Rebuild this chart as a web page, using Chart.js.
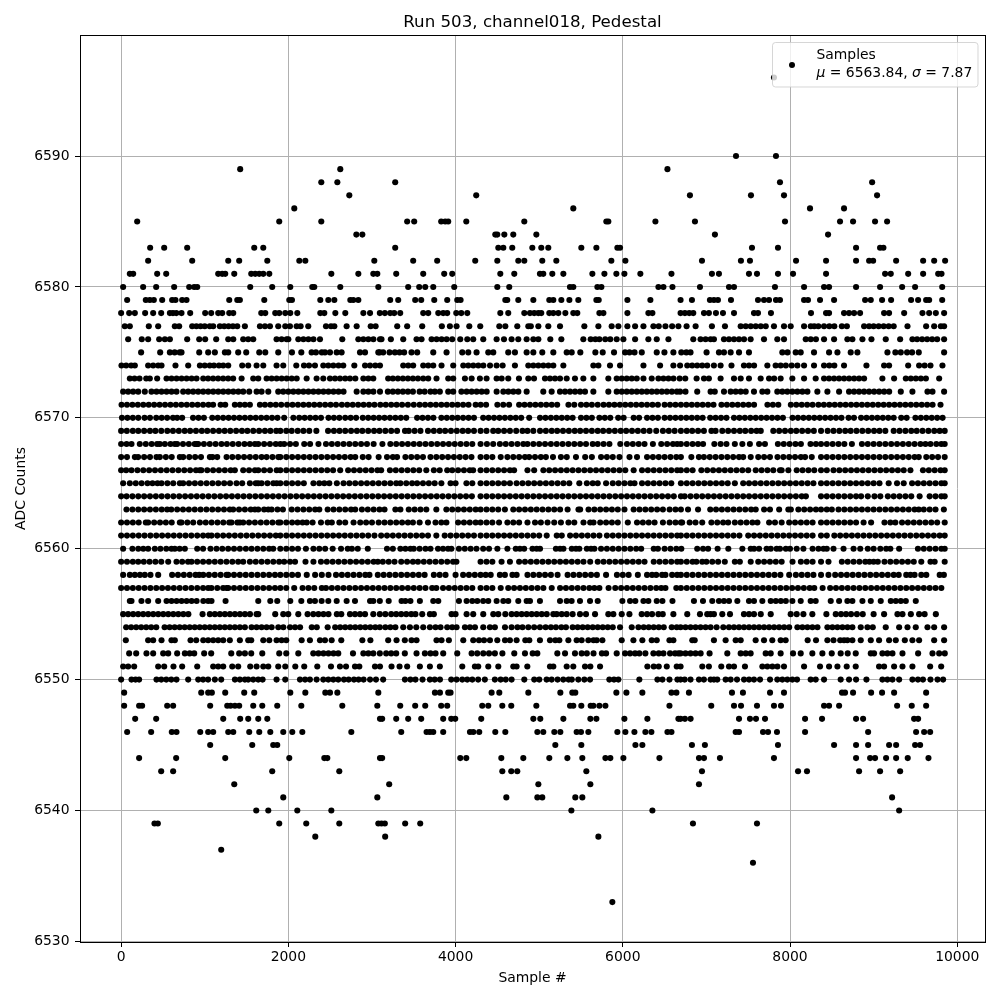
<!DOCTYPE html>
<html><head><meta charset="utf-8">
<style>html,body{margin:0;padding:0;background:#fff}canvas{display:block}</style>
<script src="https://cdn.jsdelivr.net/npm/chart.js@4"></script></head><body>
<canvas id="c" width="1000" height="1000"></canvas>
<script>
const titleText="Run 503, channel018, Pedestal", xLabel="Sample #", yLabel="ADC Counts";
const xTicks=[0,2000,4000,6000,8000,10000];
const yTicks=[6530,6540,6550,6560,6570,6580,6590];
const s6596=[7808];
const s6590=[7354,7832];
const s6589=[1424,2621,6534];
const s6588=[2394,2586,3278,8982,7880];
const s6587=[2729,4247,6803,7533,7928,9041];
const s6586=[2071,5408,8239,8646];
const s6585=[192,1891,2394,3421,3505,3828,3876,3912,4128,4822,5803,5827,6390,6863,7940,8598,8754,9017,9161];
const s6584=[2813,2885,4475,4499,4583,4690,4966,7102,8455];
const s6583=[347,515,790,1592,1700,3278,4511,4571,4678,4918,5025,5109,5504,5684,5935,5967,7545,7856,8790,9077,9117];
const s6582=[323,850,1281,1412,1748,2131,2203,3028,3493,3780,4235,4499,4750,4822,5037,5205,5863,6031,6947,7413,7521,8072,8431,8790,8946,8994,9269,9592,9724,9855];
const s6581=[104,144,431,539,1161,1209,1245,1353,1556,1604,1652,1700,1772,2514,2837,3016,3064,3290,3613,3864,3960,4535,4702,5009,5049,5157,5289,5636,5780,5923,6019,6210,6582,7066,7150,7509,7605,7856,8036,8431,9137,9205,9413,9592,9772,9812];
const s6580=[24,263,419,634,814,874,910,1544,1807,2023,2286,2310,2621,3076,3433,3565,3637,3733,3984,4499,4642,5368,5408,5696,5744,6426,6486,6594,6923,7270,7330,7820,8168,8407,8467,8790,9077,9341,9496,9820];
const s6579=[72,295,343,391,491,610,650,730,782,1293,1389,1420,1712,2011,2043,2382,2478,2550,2741,2777,2837,3218,3314,3517,3589,3745,3900,4020,4060,4595,4618,4750,4930,5121,5169,5265,5361,5468,5684,5712,6055,6330,6691,6827,7042,7090,7138,7294,7617,7689,7749,7832,7880,8168,8215,8359,8527,8898,8966,9101,9209,9448,9532,9628,9664,9820];
const s6578=[0,96,164,287,383,479,583,620,660,722,826,1005,1077,1161,1209,1293,1341,1676,1724,1843,1891,1963,2023,2107,2382,2430,2562,2681,2897,2977,3094,3154,3218,3266,3338,3613,3673,3793,3852,3900,4008,4068,4140,4535,4630,4822,4890,4941,4990,5025,5121,5169,5229,5313,5408,5456,5720,5768,6055,6306,6354,6691,6743,6795,6843,6971,7030,7114,7198,7330,7569,7617,7772,8251,8431,8467,8646,8706,8766,8838,9125,9185,9365,9584,9664,9744,9843];
const s6577=[44,104,331,443,642,694,850,900,950,1000,1060,1101,1181,1233,1285,1337,1389,1480,1660,1720,1780,1879,1963,2019,2099,2147,2238,2450,2510,2550,2697,2817,2985,3044,3302,3421,3601,3836,3932,4012,4164,4295,4523,4595,4738,4870,4900,4990,5109,5249,5540,5708,5867,5947,6055,6147,6247,6366,6430,6510,6590,6665,6763,6871,7066,7222,7410,7470,7530,7590,7650,7710,7808,7928,8008,8168,8248,8290,8339,8407,8470,8530,8620,8680,8886,8946,9000,9060,9120,9180,9240,9405,9628,9724,9804,9843];
const s6576=[84,247,323,455,523,583,790,934,1005,1137,1281,1341,1460,1520,1580,1859,1919,1979,2000,2119,2180,2240,2300,2378,2645,2837,2897,2957,3017,3096,3114,3226,3374,3533,3593,3713,3773,3833,3893,3960,4056,4140,4211,4331,4491,4579,4670,4750,4850,4930,4990,5133,5265,5528,5616,5672,5720,5790,5850,5927,6007,6147,6306,6406,6546,6843,6930,6990,7050,7090,7210,7270,7330,7390,7450,7529,7689,7848,7928,8188,8248,8310,8407,8527,8686,8746,8866,8974,9145,9317,9464,9520,9580,9640,9700,9760,9843];
const s6575=[239,467,583,640,700,722,934,1041,1121,1241,1281,1400,1496,1652,1724,1879,2043,2155,2278,2330,2400,2438,2498,2578,2637,2857,2917,3076,3094,3134,3210,3274,3330,3385,3473,3541,3733,3892,4080,4152,4251,4391,4451,4630,4710,4850,4930,5037,5169,5329,5389,5492,5672,5760,5895,6027,6080,6140,6227,6406,6498,6605,6700,6760,6810,7002,7150,7210,7290,7390,7509,7908,7970,8068,8128,8287,8467,8567,8726,8806,9165,9260,9325,9400,9460,9540,9843];
const s6574=[4,60,120,164,323,383,443,483,650,802,942,1000,1060,1110,1170,1221,1281,1448,1520,1620,1700,1859,1939,2095,2187,2247,2318,2418,2478,2538,2600,2657,2789,2917,2977,3040,3096,3374,3434,3493,3613,3673,3733,3832,3972,4092,4152,4212,4272,4332,4412,4491,4563,4710,4870,4930,4990,5050,5110,5169,5289,5648,5708,5847,5967,6247,6446,6605,6685,6771,6830,6890,6950,7010,7090,7170,7300,7449,7510,7570,7729,7828,7888,7950,8020,8088,8168,8287,8407,8470,8530,8646,8914,9125,9185,9413,9544,9610,9680,9823];
const s6573=[104,160,220,300,343,431,543,603,663,723,783,843,902,982,1040,1100,1160,1220,1280,1340,1441,1580,1640,1740,1800,1860,1920,1980,2040,2100,2219,2338,2418,2498,2558,2618,2680,2737,2801,2897,2957,3016,3194,3250,3310,3370,3430,3490,3550,3613,3673,3772,3912,3972,4112,4192,4291,4371,4491,4551,4630,4758,4870,4938,5069,5129,5189,5249,5329,5428,5528,5648,5827,5927,5987,6047,6107,6167,6247,6346,6426,6486,6546,6606,6680,6747,6883,6971,7030,7170,7330,7410,7509,7649,7749,7810,7888,8028,8168,8307,8407,8467,8527,8587,8647,8707,8767,8826,8886,9105,9245,9385,9445,9505,9565,9625,9784];
const s6572=[24,84,144,204,283,363,423,483,543,603,662,742,802,862,922,982,1042,1102,1162,1222,1282,1342,1402,1460,1532,1620,1680,1760,1879,1939,2000,2060,2120,2180,2240,2300,2360,2420,2480,2540,2600,2660,2817,2897,2957,3017,3096,3190,3250,3310,3370,3430,3490,3570,3630,3700,3752,3812,3912,3972,4070,4132,4192,4252,4312,4372,4491,4571,4631,4691,4751,4850,5049,5149,5249,5309,5369,5429,5489,5548,5648,5827,5927,5987,6047,6107,6167,6227,6287,6347,6407,6467,6527,6587,6647,6685,6750,6890,7050,7100,7210,7290,7350,7410,7470,7569,7669,7729,7848,7908,7968,8028,8088,8148,8208,8327,8447,8587,8706,8766,8826,8886,8946,9006,9066,9126,9186,9325,9464,9644,9704,9843];
const s6571=[5,70,135,200,265,330,395,460,525,590,655,720,785,850,915,980,1045,1100,1190,1245,1360,1420,1480,1540,1660,1720,1785,1850,1915,1985,2050,2115,2180,2245,2310,2375,2440,2505,2570,2640,2705,2770,2835,2900,2965,3030,3100,3165,3230,3295,3360,3430,3500,3570,3635,3700,3765,3830,3895,3960,4025,4090,4155,4240,4300,4365,4500,4570,4640,4760,4825,4890,4955,5020,5085,5150,5215,5350,5420,5500,5565,5630,5700,5770,5835,5900,5965,6030,6095,6160,6225,6290,6355,6420,6500,6565,6630,6695,6760,6825,6890,6955,7020,7085,7180,7245,7310,7375,7440,7505,7570,7730,7795,7860,8010,8075,8140,8205,8270,8340,8405,8470,8535,8600,8665,8730,8795,8860,8925,8990,9055,9120,9185,9250,9315,9380,9445,9510,9575,9640,9705,9800];
const s6570=[10,75,140,205,280,345,420,485,550,620,670,730,860,925,990,1090,1155,1220,1285,1350,1415,1480,1545,1610,1675,1740,1805,1870,1950,2060,2130,2195,2260,2325,2390,2480,2545,2610,2680,2745,2810,2890,2955,3020,3085,3150,3215,3280,3345,3410,3540,3605,3670,3735,3830,3895,3960,4025,4090,4155,4220,4330,4395,4460,4525,4590,4655,4720,4785,4880,5010,5075,5140,5205,5270,5335,5400,5500,5565,5630,5720,5785,5850,5945,6010,6130,6195,6290,6355,6420,6500,6565,6630,6695,6760,6825,6890,6955,7045,7110,7175,7240,7330,7395,7460,7525,7590,7655,7720,7785,7850,7915,8030,8095,8160,8225,8290,8355,8420,8485,8550,8615,8700,8765,8850,8915,8980,9045,9110,9175,9240,9330,9395,9500,9565,9630,9695,9760,9825];
const s6569=[0,68,140,205,275,345,410,480,552,620,690,760,825,895,965,1030,1100,1170,1238,1305,1375,1445,1510,1580,1650,1720,1785,1855,1904,1975,2040,2112,2180,2250,2335,2475,2545,2612,2680,2750,2820,2885,2955,3025,3090,3160,3230,3300,3395,3440,3510,3580,3670,3740,3810,3875,3945,4015,4085,4150,4220,4299,4370,4450,4510,4580,4650,4725,4800,4860,4930,5010,5080,5150,5215,5285,5355,5425,5490,5560,5630,5700,5765,5835,5905,5975,6040,6110,6180,6250,6320,6400,6480,6550,6620,6695,6765,6830,6900,6970,7060,7110,7190,7260,7330,7400,7465,7535,7600,7650,7800,7870,7940,8010,8075,8145,8215,8285,8371,8450,8520,8590,8660,8725,8795,8865,8935,9005,9070,9140,9240,9310,9380,9450,9515,9585,9655,9725,9790,9850];
const s6568=[0,65,124,223,295,365,430,463,523,590,642,670,740,810,880,902,922,990,1060,1130,1200,1265,1335,1405,1475,1540,1600,1640,1710,1780,1850,1904,1950,2020,2090,2190,2260,2360,2450,2520,2590,2660,2730,2800,2870,2940,3020,3125,3220,3290,3360,3430,3500,3570,3640,3710,3780,3850,3920,3990,4060,4130,4200,4299,4375,4450,4530,4600,4670,4740,4810,4860,4930,5000,5070,5140,5210,5280,5350,5420,5490,5560,5640,5700,5770,5840,5970,6050,6120,6190,6260,6360,6460,6530,6600,6650,6695,6765,6835,6900,6960,7095,7170,7240,7340,7430,7520,7630,7700,7855,7925,7995,8065,8130,8245,8310,8371,8440,8510,8580,8650,8740,8860,8930,9000,9070,9140,9210,9280,9350,9420,9490,9560,9620,9680,9750,9810,9850];
const s6567=[0,70,164,203,275,345,423,463,535,605,702,742,815,885,955,1061,1093,1149,1261,1330,1400,1470,1540,1610,1680,1740,1810,1880,1904,1975,2045,2115,2185,2255,2325,2395,2465,2535,2605,2675,2745,2800,2890,2960,3080,3180,3250,3300,3400,3470,3540,3610,3700,3770,3840,3910,3980,4050,4120,4190,4299,4370,4440,4540,4620,4690,4760,4830,4880,4950,5020,5080,5165,5260,5330,5440,5550,5630,5740,5810,5880,5960,6080,6170,6290,6360,6430,6500,6570,6640,6695,6820,6910,6970,7040,7110,7180,7250,7320,7390,7440,7530,7620,7690,7760,7850,7920,7990,8060,8130,8180,8260,8371,8440,8510,8580,8650,8720,8790,8860,8930,9000,9070,9140,9210,9280,9350,9420,9490,9540,9630,9700,9770,9850];
const s6566=[0,60,124,195,265,335,405,475,545,615,685,755,825,895,940,960,1030,1100,1170,1240,1310,1360,1460,1530,1600,1640,1710,1780,1860,1904,1975,2045,2115,2185,2255,2325,2395,2465,2535,2620,2715,2785,2855,2925,2995,3065,3110,3215,3285,3355,3425,3495,3565,3650,3740,3810,3900,3960,4030,4100,4170,4210,4299,4370,4440,4510,4580,4650,4700,4860,4940,5050,5120,5190,5260,5330,5400,5470,5540,5610,5680,5750,5820,5890,5960,6030,6130,6230,6300,6370,6440,6510,6580,6650,6695,6765,6835,6940,7010,7080,7150,7220,7290,7360,7430,7500,7590,7660,7730,7800,7880,7900,7980,8080,8150,8220,8290,8371,8440,8520,8590,8660,8730,8800,8870,8940,9010,9080,9150,9220,9290,9360,9440,9590,9660,9730,9800,9850];
const s6565=[24,104,175,245,315,375,435,483,553,623,702,742,812,882,952,1022,1092,1162,1232,1302,1380,1448,1540,1610,1640,1680,1750,1820,1860,1904,1975,2045,2115,2185,2300,2370,2430,2490,2580,2660,2730,2800,2870,2940,3010,3080,3150,3220,3290,3340,3410,3480,3540,3610,3680,3750,3830,3940,4000,4130,4200,4299,4370,4440,4510,4580,4650,4730,4800,4870,4940,5010,5080,5150,5220,5290,5360,5480,5570,5640,5700,5800,5880,5950,6020,6090,6140,6230,6300,6370,6440,6510,6580,6695,6765,6835,6905,6975,7045,7115,7185,7255,7340,7440,7510,7580,7650,7720,7790,7860,7930,8000,8070,8140,8210,8280,8371,8440,8510,8580,8650,8720,8790,8860,8930,9000,9070,9180,9280,9360,9460,9530,9600,9670,9740,9810,9850];
const s6564=[0,65,135,205,275,345,415,485,555,625,695,765,835,905,975,1045,1115,1185,1255,1325,1395,1465,1535,1605,1675,1745,1815,1885,1955,2025,2095,2165,2235,2305,2375,2445,2515,2585,2655,2725,2795,2865,2935,3005,3075,3145,3215,3285,3355,3425,3495,3565,3635,3705,3775,3845,3915,3985,4055,4125,4195,4299,4370,4440,4510,4580,4650,4720,4790,4860,4930,5000,5070,5140,5210,5280,5350,5420,5490,5560,5630,5700,5770,5840,5910,5980,6050,6120,6190,6260,6330,6400,6470,6540,6610,6695,6740,6810,6880,6950,7020,7090,7160,7230,7300,7370,7440,7510,7580,7650,7720,7790,7860,7930,8000,8070,8140,8190,8371,8440,8510,8580,8650,8720,8790,8850,8930,9010,9080,9170,9240,9310,9380,9450,9550,9670,9740,9810,9850];
const s6563=[64,135,205,275,345,415,485,550,600,670,740,810,880,950,1020,1090,1160,1230,1300,1340,1410,1480,1550,1600,1640,1710,1760,1800,1870,1935,2040,2110,2180,2250,2320,2370,2470,2540,2610,2680,2750,2800,2880,2950,3020,3090,3150,3280,3340,3440,3510,3580,3650,3770,3890,3960,4030,4100,4170,4240,4299,4370,4440,4510,4590,4690,4760,4830,4900,4970,5040,5110,5180,5250,5340,5470,5490,5590,5660,5730,5800,5870,5940,6020,6130,6200,6270,6340,6410,6480,6560,6630,6695,6780,6900,7046,7115,7185,7255,7325,7395,7465,7535,7590,7690,7760,7870,7980,8010,8100,8170,8240,8310,8371,8440,8500,8580,8650,8720,8790,8860,8930,9000,9070,9140,9210,9280,9350,9420,9490,9540,9600,9670,9740,9840];
const s6562=[0,70,140,210,295,323,395,465,535,605,702,722,792,862,942,1012,1082,1152,1222,1293,1320,1390,1420,1460,1530,1600,1670,1740,1810,1880,1904,1975,2045,2110,2170,2220,2290,2390,2470,2520,2610,2680,2780,2860,2930,3000,3080,3150,3220,3290,3360,3430,3490,3570,3670,3760,3830,3890,4030,4100,4170,4240,4299,4370,4440,4520,4620,4690,4760,4860,4950,5020,5100,5180,5260,5350,5420,5530,5610,5650,5730,5800,5870,5940,6060,6170,6240,6310,6380,6480,6560,6630,6695,6710,6800,6870,6950,7060,7130,7200,7260,7340,7410,7480,7550,7610,7750,7820,7900,7990,8060,8130,8200,8270,8371,8440,8510,8580,8650,8720,8790,8880,8970,9130,9200,9260,9340,9410,9480,9550,9620,9690,9760,9850];
const s6561=[0,70,140,210,280,350,420,490,560,630,700,770,840,910,980,1041,1081,1150,1220,1290,1360,1430,1500,1570,1640,1710,1780,1850,1904,1975,2045,2115,2185,2255,2325,2395,2465,2535,2605,2675,2745,2815,2885,2955,3030,3110,3180,3250,3320,3390,3460,3530,3600,3670,3770,3870,3940,4010,4080,4150,4220,4299,4370,4440,4510,4580,4650,4720,4790,4860,4930,5000,5090,5210,5270,5370,5440,5510,5580,5650,5720,5810,5880,5950,6020,6090,6160,6230,6300,6370,6440,6510,6580,6650,6695,6765,6835,6905,6975,7045,7115,7185,7255,7325,7395,7500,7570,7640,7710,7780,7850,7920,7990,8060,8130,8200,8270,8371,8440,8530,8600,8670,8740,8810,8880,8950,9020,9090,9160,9230,9300,9370,9440,9510,9580,9650,9720,9790,9850];
const s6560=[24,135,205,265,323,403,470,540,602,642,700,762,910,980,1069,1141,1210,1280,1350,1420,1492,1560,1630,1700,1770,1819,1904,1975,2045,2115,2210,2300,2370,2440,2530,2630,2710,2760,2830,2950,3180,3250,3340,3400,3460,3500,3570,3640,3700,3790,3850,3910,3950,4040,4110,4180,4250,4330,4400,4500,4620,4720,4770,4820,4920,4970,5010,5200,5250,5290,5390,5440,5480,5570,5620,5660,5740,5810,5880,5950,6020,6090,6160,6220,6370,6420,6500,6570,6640,6700,6890,6960,7020,7134,7262,7430,7530,7570,7630,7720,7770,7840,7880,7950,8000,8080,8160,8270,8340,8400,8440,8520,8640,8760,8840,8930,9000,9080,9150,9200,9305,9530,9600,9670,9740,9810,9850];
const s6559=[0,70,140,204,271,340,410,480,563,662,730,800,842,910,980,1050,1120,1190,1260,1330,1400,1460,1540,1610,1680,1750,1820,1890,1950,2020,2080,2205,2300,2390,2460,2530,2600,2670,2740,2810,2880,2950,3020,3070,3130,3200,3270,3350,3420,3490,3550,3620,3690,3760,3830,3900,3970,4010,4299,4370,4440,4550,4650,4760,4830,4900,4970,5040,5110,5180,5250,5320,5390,5460,5530,5610,5700,5770,5840,5910,5980,6050,6120,6190,6260,6370,6440,6510,6580,6650,6695,6765,6835,6880,6950,7000,7070,7140,7220,7340,7400,7530,7620,7690,7760,7830,7900,8030,8130,8200,8270,8371,8460,8620,8690,8760,8830,8900,8950,9000,9050,9130,9200,9270,9340,9410,9480,9570,9680,9730,9850];
const s6558=[24,104,164,225,283,351,443,610,680,750,820,890,934,982,1050,1120,1190,1261,1281,1350,1420,1490,1560,1630,1700,1770,1840,1904,1975,2045,2115,2220,2320,2400,2480,2570,2640,2710,2780,2850,2920,2970,3070,3140,3210,3280,3350,3420,3490,3560,3630,3740,3810,3880,4000,4090,4160,4230,4299,4360,4420,4530,4590,4680,4730,4860,4930,5000,5070,5140,5220,5340,5410,5480,5550,5620,5690,5800,5930,6000,6070,6180,6290,6350,6400,6470,6510,6590,6650,6695,6765,6835,6905,6975,7045,7115,7185,7255,7325,7395,7465,7535,7605,7675,7745,7815,7885,7990,8070,8140,8210,8280,8371,8460,8540,8610,8680,8750,8820,8890,8960,9030,9100,9170,9240,9300,9390,9440,9490,9570,9630,9790,9840];
const s6557=[0,70,140,210,280,350,420,490,560,630,700,770,840,910,980,1041,1080,1150,1220,1261,1281,1350,1420,1490,1560,1630,1700,1770,1840,1904,1975,2070,2170,2240,2310,2400,2450,2520,2590,2660,2730,2800,2870,2940,3010,3080,3150,3220,3290,3360,3430,3500,3570,3640,3720,3770,3850,3920,3990,4060,4130,4200,4299,4370,4440,4540,4630,4700,4770,4840,4910,4980,5050,5150,5250,5320,5390,5460,5530,5600,5660,5720,5830,5910,5980,6050,6120,6190,6260,6330,6400,6460,6510,6640,6695,6765,6835,6905,6975,7045,7115,7185,7255,7325,7395,7465,7535,7605,7675,7745,7815,7885,7955,8025,8095,8165,8235,8290,8390,8480,8550,8620,8690,8760,8830,8900,8970,9040,9110,9180,9250,9320,9390,9460,9530,9600,9670,9740,9810];
const s6556=[104,124,243,323,443,543,603,663,723,783,843,903,983,1041,1081,1249,1640,1784,1867,2023,2155,2258,2318,2398,2478,2578,2697,2797,2977,3016,3094,3200,3354,3400,3460,3573,3733,3793,4040,4132,4200,4260,4330,4391,4491,4571,4630,4750,4850,4890,5009,5249,5329,5388,5488,5608,5700,5995,6087,6150,6247,6306,6406,6474,6594,6851,6959,7070,7150,7210,7270,7370,7509,7569,7669,7769,7830,7890,7950,8028,8128,8247,8307,8487,8587,8686,8746,8866,8966,9085,9205,9265,9325,9385,9504];
const s6555=[24,84,144,204,264,324,384,444,504,564,624,684,744,804,974,1061,1121,1181,1241,1301,1361,1421,1481,1541,1620,1640,1843,1939,1999,2119,2230,2298,2360,2420,2480,2580,2633,2737,2797,2857,2917,3016,3094,3160,3230,3290,3350,3410,3470,3520,3601,3693,3740,3952,4000,4132,4211,4331,4451,4511,4595,4670,4730,4790,4850,4910,4970,5030,5090,5169,5209,5269,5329,5400,5488,5560,5668,5827,5887,5987,6079,6226,6290,6350,6426,6478,6605,6771,6923,7010,7050,7090,7190,7282,7449,7510,7569,7650,7769,8008,8080,8160,8267,8435,8547,8610,8670,8730,8800,8870,9000,9125,9285,9345,9445,9544,9610,9744];
const s6554=[60,120,180,240,300,360,420,520,580,640,700,760,820,880,940,1000,1060,1120,1180,1240,1300,1360,1420,1480,1560,1620,1680,1740,1800,1880,1940,2020,2080,2140,2280,2340,2470,2560,2620,2680,2740,2800,2860,2920,2980,3040,3094,3160,3220,3280,3374,3454,3530,3613,3693,3760,3820,3900,3960,4012,4112,4172,4232,4331,4411,4470,4591,4670,4740,4800,4870,4940,5009,5077,5140,5200,5265,5320,5400,5460,5520,5580,5640,5700,5760,5820,5880,5967,6107,6187,6250,6310,6370,6430,6490,6585,6645,6691,6750,6810,6870,6930,6990,7050,7122,7202,7270,7330,7390,7450,7510,7570,7630,7690,7750,7810,7870,7930,7990,8088,8148,8208,8268,8328,8447,8507,8567,8627,8687,8746,8846,8926,8990,9145,9305,9405,9504,9644,9724,9843];
const s6553=[56,323,383,483,602,642,830,898,982,1041,1101,1161,1221,1300,1420,1520,1556,1700,1772,1859,1919,1975,2159,2258,2378,2438,2518,2633,2885,2981,3194,3294,3393,3473,3533,3772,3832,3920,4092,4211,4280,4340,4411,4499,4591,4650,4730,4834,4882,5009,5129,5193,5241,5349,5448,5508,5588,5650,5688,5756,5987,6127,6234,6346,6406,6558,6605,6831,6860,7090,7230,7350,7410,7589,7689,7788,7888,7948,8211,8311,8447,8520,8600,8646,8686,8746,8846,8966,9065,9185,9265,9373,9464,9544,9724,9843];
const s6552=[96,180,303,383,503,563,670,762,820,874,993,1077,1317,1412,1480,1556,1688,1891,1975,2119,2298,2360,2420,2480,2540,2597,2773,2897,2957,3016,3094,3170,3230,3290,3393,3533,3633,3700,3760,3852,4020,4192,4259,4331,4400,4470,4560,4702,4830,4922,4978,5217,5309,5428,5508,5570,5650,5750,5800,5927,6027,6087,6147,6198,6270,6366,6430,6486,6565,6625,6665,6691,6750,6810,6870,6931,7038,7250,7410,7470,7529,7709,7769,7888,8036,8128,8267,8387,8499,8606,8690,8786,8966,9005,9105,9165,9225,9345,9532,9704,9784,9851];
const s6551=[24,84,156,443,515,626,730,910,1101,1161,1221,1329,1400,1544,1620,1700,1760,1879,1963,2083,2190,2346,2510,2617,2690,2797,2849,3036,3096,3234,3330,3421,3573,3693,3812,4080,4231,4271,4391,4511,4690,4730,4858,5129,5169,5329,5408,5548,5612,5728,6294,6370,6430,6526,6645,6691,6951,7030,7178,7270,7330,7461,7669,7729,7789,7849,7928,8168,8359,8467,8567,8678,8786,9065,9125,9245,9345,9464,9676,9808];
const s6550=[0,124,172,215,423,480,540,600,662,802,922,980,1040,1121,1197,1361,1420,1480,1520,1580,1640,1692,1859,1963,2139,2200,2258,2338,2418,2478,2538,2597,2665,2721,2785,2840,2900,2977,3048,3134,3394,3460,3520,3605,3693,3750,3813,3948,4012,4080,4140,4200,4270,4350,4470,4539,4600,4670,4822,4941,5001,5089,5149,5220,5288,5352,5390,5468,5540,5608,5839,5895,5947,6198,6414,6474,6558,6653,6691,6740,6810,6911,6970,7050,7090,7130,7230,7290,7366,7450,7510,7569,7641,7761,7848,7908,7968,8028,8084,8247,8307,8407,8606,8706,8790,8914,9105,9165,9225,9305,9464,9530,9590,9680,9764,9831];
const s6549=[36,958,1041,1085,1245,1472,1592,2023,2203,2442,2498,2586,3076,3753,3813,3912,3940,4431,4523,4870,5253,5396,5432,5923,6043,6234,6582,6641,6791,7306,7437,7761,7928,8622,8658,8754,8970,9101,9245,9628];
const s6548=[36,215,251,551,622,1065,1269,1309,1361,1412,1580,1688,1867,2155,2645,3064,3338,3517,3637,3828,3900,4319,4391,4559,4666,4966,5369,5408,5504,5616,5648,5720,5792,6558,7058,7330,7414,7605,7808,7892,8407,8467,8587,9281,9456,9628];
const s6547=[168,419,1221,1424,1520,1640,1748,3096,3122,3290,3433,3589,3852,3948,3996,4307,4930,5013,5289,5612,5684,6019,6294,6665,6691,6743,6811,7390,7521,7593,7701,8180,8383,8790,8874,9484,9532];
const s6546=[72,359,606,662,946,1041,1101,1281,1341,1532,1652,1784,1939,2047,2167,2753,3350,3653,3693,3733,3852,4172,4212,4283,4475,4595,4978,5049,5181,5253,5448,5500,5588,5935,6031,6139,6270,6342,6534,6582,7350,7390,7677,7737,7844,8180,8934,9508,9604,9676];
const s6545=[1065,1568,1819,1867,5193,5504,6151,6234,6827,6982,7856,8527,8790,8934,9185,9269,9496,9556];
const s6544=[215,658,1245,2011,2430,2466,3096,3122,4056,4128,4547,4810,5121,5337,5516,5792,5851,6007,6438,6911,6971,7162,7808,8790,8958,9017,9149,9269,9408,9656];
const s6543=[479,622,1807,2609,4559,4666,4738,5564,6947,8096,8203,8826,9077,9317];
const s6542=[1353,3206,4990,5612,6911];
const s6541=[1939,3064,4607,4978,5037,5432,5516,9221];
const s6540=[1616,1760,2107,2514,5385,6354,9305];
const s6539=[399,439,1891,2214,2609,3076,3114,3154,3397,3577,6839,7605];
const s6538=[2322,3158,5708];
const s6537=[1197];
const s6536=[7557];
const s6533=[5875];
const levels=[6596,6590,6589,6588,6587,6586,6585,6584,6583,6582,6581,6580,6579,6578,6577,6576,6575,6574,6573,6572,6571,6570,6569,6568,6567,6566,6565,6564,6563,6562,6561,6560,6559,6558,6557,6556,6555,6554,6553,6552,6551,6550,6549,6548,6547,6546,6545,6544,6543,6542,6541,6540,6539,6538,6537,6536,6533];
const rows=[s6596,s6590,s6589,s6588,s6587,s6586,s6585,s6584,s6583,s6582,s6581,s6580,s6579,s6578,s6577,s6576,s6575,s6574,s6573,s6572,s6571,s6570,s6569,s6568,s6567,s6566,s6565,s6564,s6563,s6562,s6561,s6560,s6559,s6558,s6557,s6556,s6555,s6554,s6553,s6552,s6551,s6550,s6549,s6548,s6547,s6546,s6545,s6544,s6543,s6542,s6541,s6540,s6539,s6538,s6537,s6536,s6533];
const points=rows.flatMap((xs,i)=>xs.map(x=>({x,y:levels[i]})));
const FONT='"DejaVu Sans"';
const legendPlugin={id:'mplLegend',afterDraw(ch){
  const c=ch.ctx,a=ch.chartArea;
  c.save();
  c.strokeStyle='#000';c.lineWidth=1;
  c.strokeRect(a.left+.5,a.top+.5,a.right-a.left,a.bottom-a.top);
  const x=772.5,y=42.5,w=205.5,h=44.5,r=3;
  c.beginPath();c.roundRect(x,y,w,h,r);
  c.fillStyle='rgba(255,255,255,0.8)';c.fill();
  c.strokeStyle='rgba(204,204,204,0.8)';c.lineWidth=1;c.stroke();
  c.fillStyle='#000';c.beginPath();c.arc(792,65,3,0,Math.PI*2);c.fill();
  c.fillStyle='#000';c.textBaseline='alphabetic';c.textAlign='left';
  const norm='13.9px '+FONT,ital='italic 13.9px '+FONT;
  c.font=norm;c.fillText('Samples',816.5,59);
  let px=816.5;const by=77;
  for(const [t,f] of [['μ',ital],[' = 6563.84, ',norm],['σ',ital],[' = 7.87',norm]]){
    c.font=f;c.fillText(t,px,by);px+=c.measureText(t).width;
  }
  c.restore();
}};
new Chart(document.getElementById('c'),{
  type:'scatter',
  data:{datasets:[{label:'Samples',data:points,backgroundColor:'#000',borderWidth:0,pointRadius:3.05,pointHoverRadius:3.05}]},
  plugins:[legendPlugin],
  options:{
    responsive:false,animation:false,devicePixelRatio:1,
    layout:{padding:{left:0,right:15,top:0,bottom:0}},
    plugins:{
      legend:{display:false},tooltip:{enabled:false},
      title:{display:true,fullSize:false,text:titleText,color:'#000',font:{family:FONT,size:16.67,weight:'normal'},padding:{top:13,bottom:2}}
    },
    scales:{
      x:{type:'linear',min:-492,max:10332,
        afterBuildTicks(s){s.ticks=xTicks.map(v=>({value:v}))},
        afterFit(s){s.height=58},
        ticks:{color:'#000',font:{family:FONT,size:13.9},padding:2,maxRotation:0,callback:v=>String(v)},
        grid:{color:'#b0b0b0',lineWidth:1,tickColor:'#000',tickLength:5},
        border:{color:'#000',width:1},
        title:{display:true,text:xLabel,color:'#000',font:{family:FONT,size:13.9},padding:{top:4,bottom:13}}},
      y:{type:'linear',min:6529.95,max:6599.25,
        afterBuildTicks(s){s.ticks=yTicks.map(v=>({value:v}))},
        afterFit(s){s.width=80},
        ticks:{color:'#000',font:{family:FONT,size:13.9},padding:5.5,callback:v=>String(v)},
        grid:{color:'#b0b0b0',lineWidth:1,tickColor:'#000',tickLength:5},
        border:{color:'#000',width:1},
        title:{display:true,text:yLabel,color:'#000',font:{family:FONT,size:13.9},padding:{top:13,bottom:4}}}
    }
  }
});
</script></body></html>
